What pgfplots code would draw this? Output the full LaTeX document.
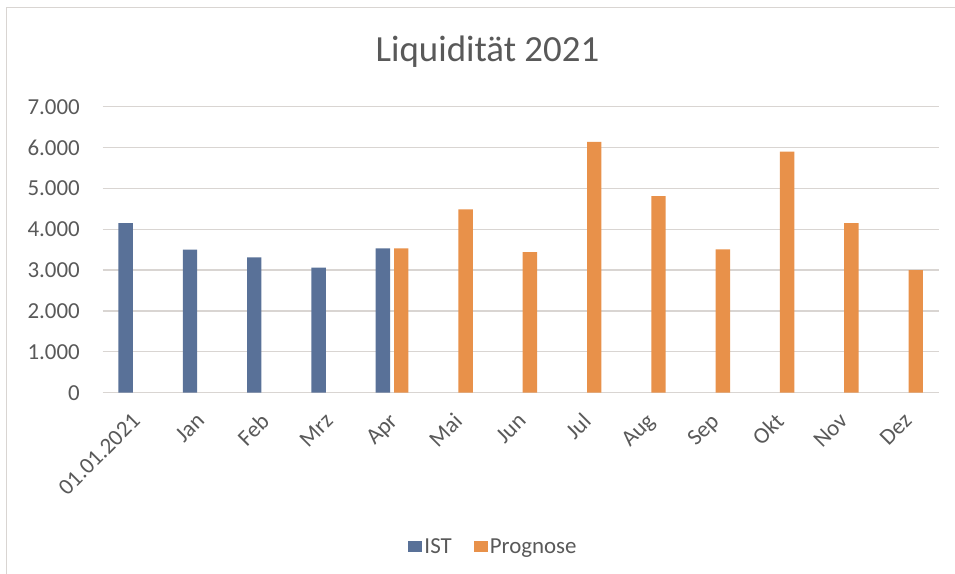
\documentclass[border=0pt]{standalone}
\usepackage{pgfplots}
\pgfplotsset{compat=1.18}
\usepackage{fontspec}
\setmainfont{Carlito}
\definecolor{istblue}{RGB}{89,113,152}
\definecolor{progorange}{RGB}{232,145,74}
\definecolor{gridgray}{RGB}{217,213,210}
\definecolor{txtgray}{RGB}{89,89,89}
\begin{document}
\begin{tikzpicture}
\useasboundingbox (-102.7bp,-181.3bp) rectangle (852.3bp,392.7bp);
\draw[gridgray, line width=1.3bp] (-96bp,-181.3bp) -- (-96bp,385.2bp) -- (852.3bp,385.2bp);
\begin{axis}[
  at={(0,0)}, anchor=south west,
  scale only axis, width=836bp, height=286bp,
  ybar=0pt, bar width=14.4bp,
  xmin=-0.5, xmax=12.5, ymin=0, ymax=7000,
  xtick={0,...,12},
  xticklabels={01.01.2021,Jan,Feb,Mrz,Apr,Mai,Jun,Jul,Aug,Sep,Okt,Nov,Dez},
  ytick={0,1000,...,7000},
  ymajorgrids, major grid style={gridgray, line width=1.3bp},
  axis line style={draw=none}, major tick length=0pt,
  tick label style={font=\fontsize{23}{27}\selectfont, text=txtgray},
  yticklabel style={inner sep=0pt, anchor=east, xshift=-22.7bp},
  xticklabel style={inner sep=0pt, xshift=-4bp, yshift=-19bp, rotate=45, anchor=north east},
  /pgf/number format/1000 sep={.}, /pgf/number format/assume math mode=true,
  title={Liquidität 2021},
  title style={font=\fontsize{37}{42}\selectfont, text=txtgray, anchor=base, inner sep=0pt,
    at={(axis description cs:0.4603,1.1364)}},
  legend style={at={(axis description cs:0.4675,-0.5378)}, anchor=center, draw=none, fill=none,
    legend columns=-1, font=\fontsize{23}{27}\selectfont, text=txtgray,
    /tikz/every even column/.append style={column sep=20bp}},
  legend image code/.code={\path[#1,draw=none] (0bp,-5.5bp) rectangle (14bp,5.5bp);},
]
\addplot[fill=istblue, draw=none, bar shift=-9.2bp] coordinates {
  (0,4150) (1,3500) (2,3310) (3,3060) (4,3530)};
\addlegendentry{IST}
\addplot[fill=progorange, draw=none, bar shift=9.2bp] coordinates {
  (4,3530) (5,4490) (6,3440) (7,6140) (8,4810) (9,3510) (10,5900) (11,4150) (12,3000)};
\addlegendentry{Prognose}
\end{axis}
\end{tikzpicture}
\end{document}
